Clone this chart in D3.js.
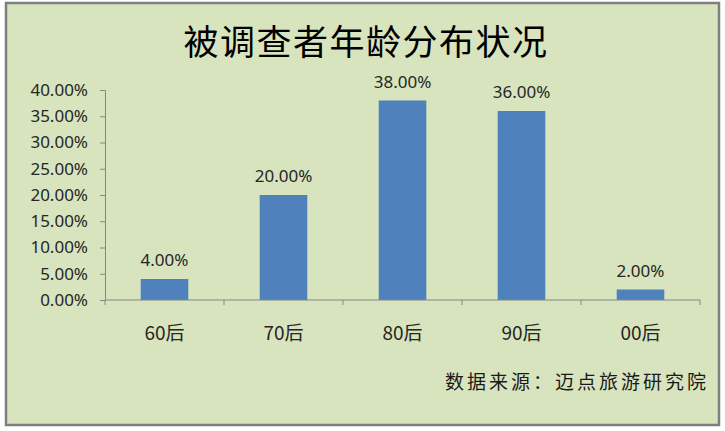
<!DOCTYPE html>
<html><head><meta charset="utf-8">
<script src="https://cdn.jsdelivr.net/npm/d3@7"></script>
<style>body{margin:0;background:#fff}svg{display:block}</style>
</head><body>
<svg id="c" width="725" height="431"></svg>
<script>
const categories = ["60后", "70后", "80后", "90后", "00后"];
const values = [0.04, 0.20, 0.38, 0.36, 0.02];
const yTicks = [0, 0.05, 0.10, 0.15, 0.20, 0.25, 0.30, 0.35, 0.40];
const title = "被调查者年龄分布状况";
const source = "数据来源：迈点旅游研究院";

const svg = d3.select("#c");
svg.append("rect").attr("x", 6).attr("y", 3).attr("width", 713).attr("height", 422)
  .attr("fill", "#d7e4bd").attr("stroke", "#7f7f7f").attr("stroke-width", 2.5);

const x = d3.scaleBand().domain(categories).range([105, 700]).paddingInner(0.6).paddingOuter(0.3);
const y = d3.scaleLinear().domain([0, 0.4]).range([300, 90]);
const fmt = d3.format(".2%");

svg.append("text").attr("x", 366).attr("y", 55).attr("text-anchor", "middle")
  .attr("font-family", "Noto Sans CJK SC").attr("font-size", 35).attr("letter-spacing", 1.5)
  .attr("fill", "#000").text(title);

const yAxis = svg.append("g").attr("transform", "translate(105,0)")
  .call(d3.axisLeft(y).tickValues(yTicks).tickFormat(fmt).tickSize(5).tickPadding(12));
yAxis.select(".domain").attr("stroke", "#868686");
yAxis.selectAll(".tick line").attr("stroke", "#868686");
yAxis.selectAll("text").attr("font-family", "Noto Sans").attr("font-size", 17).attr("fill", "#262626");

svg.selectAll("rect.bar").data(values).enter().append("rect").attr("class", "bar")
  .attr("x", (d, i) => x(categories[i])).attr("width", x.bandwidth())
  .attr("y", d => y(d)).attr("height", d => y(0) - y(d)).attr("fill", "#4f81bd");

const xAxis = svg.append("g").attr("transform", "translate(0,300)");
xAxis.append("line").attr("x1", 105).attr("x2", 700).attr("stroke", "#868686");
const edges = categories.map((c, i) => 105 + i * x.step()).concat([700]);
xAxis.selectAll("line.t").data(edges).enter().append("line").attr("class", "t")
  .attr("x1", d => d).attr("x2", d => d).attr("y1", 0).attr("y2", 5).attr("stroke", "#868686");
xAxis.selectAll("text").data(categories).enter().append("text")
  .attr("x", d => x(d) + x.bandwidth() / 2).attr("y", 40).attr("text-anchor", "middle")
  .attr("font-family", "Noto Sans CJK SC").attr("font-size", 19).attr("fill", "#262626").text(d => d);

svg.selectAll("text.lbl").data(values).enter().append("text").attr("class", "lbl")
  .attr("x", (d, i) => x(categories[i]) + x.bandwidth() / 2).attr("y", d => y(d) - 13)
  .attr("text-anchor", "middle").attr("font-family", "Noto Sans").attr("font-size", 17)
  .attr("fill", "#262626").text(d => fmt(d));

svg.append("text").attr("x", 709).attr("y", 389).attr("text-anchor", "end")
  .attr("font-family", "Noto Sans CJK SC").attr("font-size", 19).attr("letter-spacing", 3)
  .attr("fill", "#1a1a1a").text(source);
</script>
</body></html>
